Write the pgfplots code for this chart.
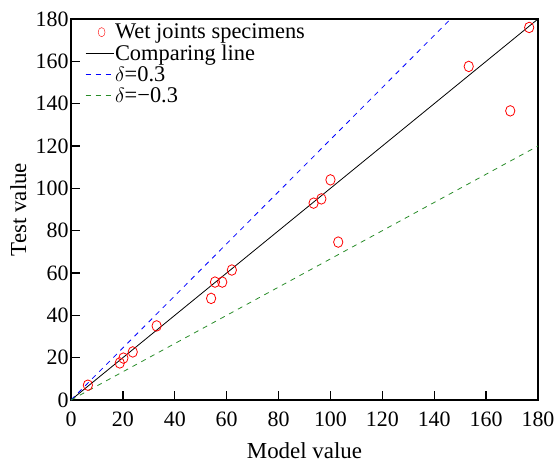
\documentclass[border=0pt]{standalone}
\usepackage{pgfplots}
\pgfplotsset{compat=1.18}
\usepackage{fontspec}
\setmainfont{Liberation Serif}
\definecolor{dgreen}{RGB}{40,140,40}
\pgfplotsset{
  lineleg/.style={legend image code/.code={\draw[##1] (0bp,0bp) -- (28bp,0bp);}},
  markleg/.style={legend image code/.code={\draw[##1, mark size=4.6pt, mark options={xscale=0.75}] plot coordinates {(16bp,0bp)};}},
}
\begin{document}
\begin{tikzpicture}
\begin{axis}[
  scale only axis,
  width=467bp, height=381bp,
  xmin=0, xmax=180, ymin=0, ymax=180,
  xtick={0,20,...,180}, ytick={0,20,...,180},
  tick align=inside,
  xtick pos=bottom, ytick pos=left,
  major tick length=9bp,
  axis line style={line width=1.3pt},
  tick style={line width=1.3pt, black},
  /pgf/number format/assume math mode=true,
  ticklabel style={font=\fontsize{22}{23}\selectfont},
  xticklabel style={yshift=-8bp},
  yticklabel style={xshift=1bp},
  xlabel={Model value}, ylabel={Test value},
  xlabel style={font=\fontsize{23}{24}\selectfont, at={(axis description cs:0.5,-0.134)}, anchor=center},
  ylabel style={font=\fontsize{23}{24}\selectfont, at={(axis description cs:-0.113,0.5)}, anchor=center},
  legend style={at={(0.03,0.99)}, anchor=north west, draw=none, fill=none,
    font=\fontsize{22.5}{23}\selectfont, row sep=2.5bp, inner sep=0bp,
    nodes={inner sep=1bp},
    /tikz/every even column/.append style={column sep=4bp}},
  legend cell align=left,
]
\addplot[only marks, mark=o, red, mark size=5.3pt, mark options={xscale=0.88, line width=0.8pt}, markleg] coordinates {
(6.5,7) (18.8,17.5) (20.2,19.8) (23.8,22.7) (33,35) (54,48) (55.5,55.7) (58.3,55.7) (62,61.4)
(93.5,93) (96.5,95) (100,104) (103,74.6) (153.3,157.6) (169.3,136.6) (176.6,176)
};
\addlegendentry{Wet joints specimens}
\addplot[black, line width=0.8pt, lineleg] coordinates {(0,0) (180,180)};
\addlegendentry{Comparing line}
\addplot[blue, line width=0.8pt, dash pattern=on 5bp off 5bp, lineleg] coordinates {(0,0) (146.3,180)};
\addlegendentry{$\delta$=0.3}
\addplot[dgreen, line width=0.8pt, dash pattern=on 5bp off 5bp, lineleg] coordinates {(0,0) (180,120)};
\addlegendentry{$\delta$=−0.3}
\end{axis}
\pgfresetboundingbox
\path (current axis.south west) ++(-71bp,-63bp) coordinate (bbA);
\path (current axis.north east) ++(17bp,19bp) coordinate (bbB);
\path (bbA) rectangle (bbB);
\end{tikzpicture}
\end{document}
